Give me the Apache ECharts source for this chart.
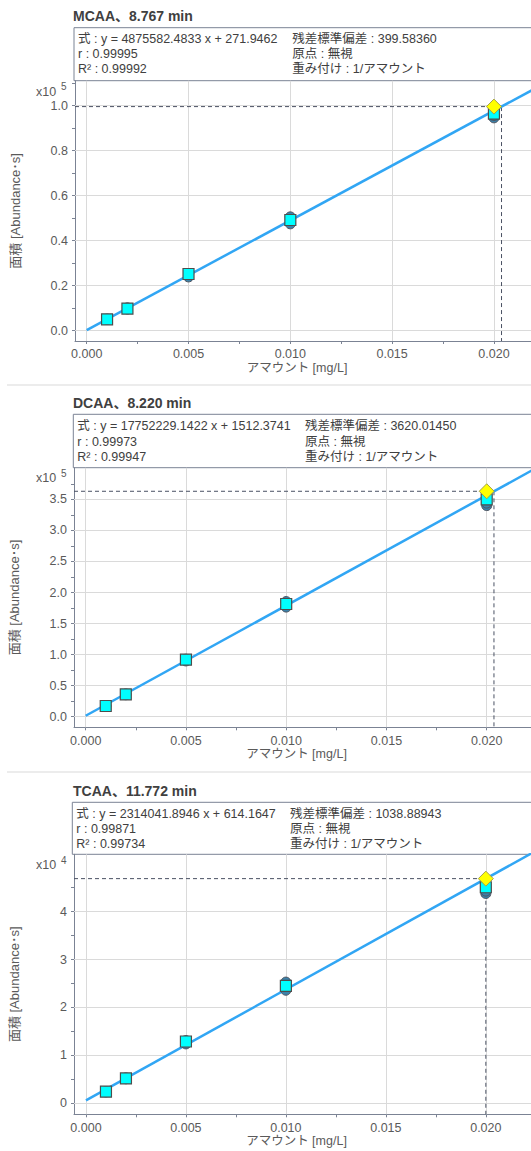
<!DOCTYPE html>
<html>
<head>
<meta charset="utf-8">
<script src="https://cdn.jsdelivr.net/npm/echarts@6/dist/echarts.min.js"></script>
<style>
  html, body { margin: 0; padding: 0; background: #ffffff; }
  #chart { width: 531px; height: 1151px; }
</style>
</head>
<body>
<div id="chart"></div>
<script>
// Calibration levels shared by all three compounds (mg/L)
const amounts = [0.001, 0.002, 0.005, 0.010, 0.020];
const xTickValues = [0, 0.005, 0.010, 0.015, 0.020];
const xMinorValues = [0.0025, 0.0075, 0.0125, 0.0175];
const sampleAmount = 0.020;

// MCAA
const mcaaName = 'MCAA、8.767 min';
const mcaaSlope = 4875582.4833;
const mcaaIntercept = 271.9462;
const mcaaStatsLeft = ['式 : y = 4875582.4833 x + 271.9462', 'r : 0.99995', 'R² : 0.99992'];
const mcaaStatsRight = ['残差標準偏差 : 399.58360', '原点 : 無視', '重み付け : 1/アマウント'];
const mcaaAreas = [5070, 9800, 25200, 49200, 96500];
const mcaaReplicateLow = [4950, 9650, 23900, 47500, 94600];
const mcaaReplicateHigh = [5150, 10150, 25000, 50600, 95600];
const mcaaSampleArea = 99600;
const mcaaYTicks = [0, 20000, 40000, 60000, 80000, 100000];
const mcaaYMinor = [10000, 30000, 50000, 70000, 90000, 110000];

// DCAA
const dcaaName = 'DCAA、8.220 min';
const dcaaSlope = 17752229.1422;
const dcaaIntercept = 1512.3741;
const dcaaStatsLeft = ['式 : y = 17752229.1422 x + 1512.3741', 'r : 0.99973', 'R² : 0.99947'];
const dcaaStatsRight = ['残差標準偏差 : 3620.01450', '原点 : 無視', '重み付け : 1/アマウント'];
const dcaaAreas = [17200, 36000, 91800, 181500, 350000];
const dcaaReplicateLow = [17000, 35400, 89800, 176500, 340000];
const dcaaReplicateHigh = [17500, 36600, 92600, 185500, 344000];
const dcaaSampleArea = 363000;
const dcaaYTicks = [0, 50000, 100000, 150000, 200000, 250000, 300000, 350000];
const dcaaYMinor = [25000, 75000, 125000, 175000, 225000, 275000, 325000, 375000];

// TCAA
const tcaaName = 'TCAA、11.772 min';
const tcaaSlope = 2314041.8946;
const tcaaIntercept = 614.1647;
const tcaaStatsLeft = ['式 : y = 2314041.8946 x + 614.1647', 'r : 0.99871', 'R² : 0.99734'];
const tcaaStatsRight = ['残差標準偏差 : 1038.88943', '原点 : 無視', '重み付け : 1/アマウント'];
const tcaaAreas = [2420, 5200, 12900, 24500, 45100];
const tcaaReplicateLow = [2380, 5120, 12400, 23600, 43800];
const tcaaReplicateHigh = [2460, 5300, 13100, 25300, 44300];
const tcaaSampleArea = 46900;
const tcaaYTicks = [0, 10000, 20000, 30000, 40000];
const tcaaYMinor = [5000, 15000, 25000, 35000, 45000];

const compounds = [
  { name: mcaaName, slope: mcaaSlope, intercept: mcaaIntercept, left: mcaaStatsLeft, right: mcaaStatsRight,
    areas: mcaaAreas, repLow: mcaaReplicateLow, repHigh: mcaaReplicateHigh, sample: mcaaSampleArea,
    yTicks: mcaaYTicks, yMinor: mcaaYMinor, scale: 1e5, exponent: '5', digits: 1 },
  { name: dcaaName, slope: dcaaSlope, intercept: dcaaIntercept, left: dcaaStatsLeft, right: dcaaStatsRight,
    areas: dcaaAreas, repLow: dcaaReplicateLow, repHigh: dcaaReplicateHigh, sample: dcaaSampleArea,
    yTicks: dcaaYTicks, yMinor: dcaaYMinor, scale: 1e5, exponent: '5', digits: 1 },
  { name: tcaaName, slope: tcaaSlope, intercept: tcaaIntercept, left: tcaaStatsLeft, right: tcaaStatsRight,
    areas: tcaaAreas, repLow: tcaaReplicateLow, repHigh: tcaaReplicateHigh, sample: tcaaSampleArea,
    yTicks: tcaaYTicks, yMinor: tcaaYMinor, scale: 1e4, exponent: '4', digits: 0 }
];

// Panel layout (pixels) and axis extents
const layouts = [
  { gridLeft: 75, gridTop: 80.7, gridHeight: 260.3, titleY: 16, boxTop: 27.7, boxLeft: 74, col2: 292.3,
    rowY: [39.3, 54.3, 69.3], expY: 91.5,
    xMin: -0.000575, xMax: 0.02182, yMin: -4578, yMax: 111110 },
  { gridLeft: 73.3, gridTop: 467.7, gridHeight: 259.6, titleY: 403, boxTop: 414.3, boxLeft: 73.3, col2: 305,
    rowY: [426, 441.5, 456.5], expY: 478,
    xMin: -0.000583, xMax: 0.02221, yMin: -17070, yMax: 400970 },
  { gridLeft: 72.3, gridTop: 854.3, gridHeight: 260, titleY: 790.7, boxTop: 802.3, boxLeft: 72.3, col2: 290,
    rowY: [814, 829, 844], expY: 865,
    xMin: -0.000598, xMax: 0.02226, yMin: -2296, yMax: 51980 }
];

const AXIS_COLOR = '#7b8394';
const GRID_COLOR = '#dadada';
const LABEL_COLOR = '#5a5a5a';
const TEXT_COLOR = '#404040';
const FONT = '"Liberation Sans", "Noto Sans CJK JP", sans-serif';

const grids = [], xAxes = [], yAxes = [], series = [], graphics = [];

compounds.forEach((c, i) => {
  const L = layouts[i];
  grids.push({ left: L.gridLeft, top: L.gridTop, width: 531 - L.gridLeft + 2, height: L.gridHeight, containLabel: false });

  xAxes.push({
    type: 'value', gridIndex: i, min: L.xMin, max: L.xMax,
    name: 'アマウント [mg/L]', nameLocation: 'middle', nameGap: 20,
    nameTextStyle: { color: LABEL_COLOR, fontSize: 12.5, fontFamily: FONT, padding: [0, 12, 0, 0] },
    axisLine: { show: true, onZero: false, lineStyle: { color: AXIS_COLOR, width: 1 } },
    axisTick: { show: true, inside: false, length: 3, customValues: xTickValues.concat(xMinorValues), lineStyle: { color: AXIS_COLOR } },
    axisLabel: { customValues: xTickValues, formatter: v => v.toFixed(3), color: LABEL_COLOR, fontSize: 12.5, fontFamily: FONT, margin: 7 },
    splitLine: { show: false }
  });

  yAxes.push({
    type: 'value', gridIndex: i, min: L.yMin, max: L.yMax,
    name: '面積 [Abundance･s]', nameLocation: 'middle', nameGap: 53,
    nameTextStyle: { color: LABEL_COLOR, fontSize: 13, fontFamily: FONT },
    axisLine: { show: true, onZero: false, lineStyle: { color: AXIS_COLOR, width: 1 } },
    axisTick: { show: true, inside: false, length: 3, customValues: c.yTicks.concat(c.yMinor), lineStyle: { color: AXIS_COLOR } },
    axisLabel: { customValues: c.yTicks, formatter: v => (v / c.scale).toFixed(c.digits), color: LABEL_COLOR, fontSize: 12.5, fontFamily: FONT, margin: 7 },
    splitLine: { show: false }
  });

  // Major grid lines, drawn as segments across the plot
  const gridSegments = xTickValues.map(v => ({ coords: [[v, L.yMin], [v, L.yMax]] }))
    .concat(c.yTicks.map(v => ({ coords: [[L.xMin, v], [L.xMax, v]] })));
  series.push({
    type: 'lines', coordinateSystem: 'cartesian2d', xAxisIndex: i, yAxisIndex: i,
    silent: true, z: 1, polyline: false, symbol: 'none',
    lineStyle: { color: GRID_COLOR, width: 1, opacity: 1, curveness: 0 },
    data: gridSegments
  });

  // Sample response read-off lines
  const calcAmount = (c.sample - c.intercept) / c.slope;
  series.push({
    type: 'line', xAxisIndex: i, yAxisIndex: i, silent: true, z: 2, symbol: 'none',
    lineStyle: { color: '#4a5163', width: 1, type: [4, 3] },
    data: [[L.xMin, c.sample], [calcAmount, c.sample], [calcAmount, L.yMin]]
  });

  // Calibration curve from the fitted equation
  const xEnd = 0.025;
  series.push({
    type: 'line', xAxisIndex: i, yAxisIndex: i, silent: true, z: 3, symbol: 'none', clip: true,
    lineStyle: { color: '#31a6f4', width: 2.5 },
    data: [[0, c.intercept], [xEnd, c.slope * xEnd + c.intercept]]
  });

  // Replicate injections
  const reps = [];
  amounts.forEach((a, k) => { reps.push([a, c.repLow[k]]); reps.push([a, c.repHigh[k]]); });
  series.push({
    type: 'scatter', xAxisIndex: i, yAxisIndex: i, silent: true, z: 4,
    symbol: 'circle', symbolSize: 10,
    itemStyle: { color: '#3b82aa', borderColor: '#4f5560', borderWidth: 1, opacity: 1 },
    data: reps
  });

  // Calibration level responses
  series.push({
    type: 'scatter', xAxisIndex: i, yAxisIndex: i, silent: true, z: 5,
    symbol: 'rect', symbolSize: 11,
    itemStyle: { color: '#00ffff', borderColor: '#4d4d4d', borderWidth: 1.2, opacity: 1 },
    data: amounts.map((a, k) => [a, c.areas[k]])
  });

  // Sample result
  series.push({
    type: 'scatter', xAxisIndex: i, yAxisIndex: i, silent: true, z: 6,
    symbol: 'diamond', symbolSize: 15,
    itemStyle: { color: '#ffff00', borderColor: '#a3a14a', borderWidth: 1, opacity: 1 },
    data: [[sampleAmount, c.sample]]
  });

  // Header: title and regression summary box
  graphics.push({ type: 'text', x: 73, y: L.titleY, silent: true,
    style: { text: c.name, font: 'bold 14px ' + FONT, fill: TEXT_COLOR, verticalAlign: 'middle' } });
  graphics.push({ type: 'rect', silent: true,
    shape: { x: L.boxLeft, y: L.boxTop, width: 531 - L.boxLeft + 5, height: L.gridTop - L.boxTop },
    style: { fill: 'none', stroke: AXIS_COLOR, lineWidth: 1 } });
  c.left.forEach((t, k) => graphics.push({ type: 'text', x: L.boxLeft + 4, y: L.rowY[k], silent: true,
    style: { text: t, font: '12.5px ' + FONT, fill: TEXT_COLOR, verticalAlign: 'middle' } }));
  c.right.forEach((t, k) => graphics.push({ type: 'text', x: L.col2, y: L.rowY[k], silent: true,
    style: { text: t, font: '12.5px ' + FONT, fill: TEXT_COLOR, verticalAlign: 'middle' } }));

  // Axis multiplier
  graphics.push({ type: 'text', x: 36, y: L.expY, silent: true,
    style: { text: 'x10', font: '12.5px ' + FONT, fill: LABEL_COLOR, verticalAlign: 'middle' } });
  graphics.push({ type: 'text', x: 61, y: L.expY - 5, silent: true,
    style: { text: c.exponent, font: '10px ' + FONT, fill: LABEL_COLOR, verticalAlign: 'middle' } });
});

// Panel separators
[385, 772].forEach(y => graphics.push({ type: 'line', silent: true,
  shape: { x1: 7, y1: y, x2: 531, y2: y }, style: { stroke: '#e6e6e6', lineWidth: 1.5 } }));

const chart = echarts.init(document.getElementById('chart'), null, { renderer: 'svg' });
chart.setOption({
  animation: false,
  backgroundColor: '#ffffff',
  grid: grids,
  xAxis: xAxes,
  yAxis: yAxes,
  series: series,
  graphic: { elements: graphics }
});
</script>
</body>
</html>
